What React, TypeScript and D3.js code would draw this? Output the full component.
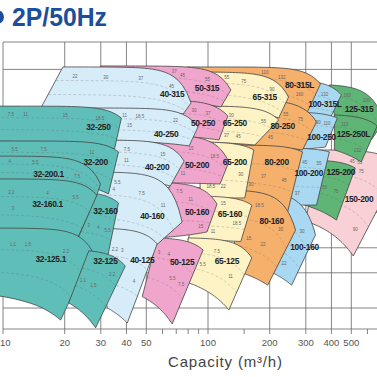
import React from "react";
import * as d3 from "d3";

type Pt = [number, number];

// Axis ticks (capacity m3/h, head m)
const qTicks = [10, 20, 30, 40, 50, 100, 200, 300, 400, 500];
const qMinorTicks = [60, 70, 80, 90, 150, 600];
const hGrid = [10, 15, 20, 30, 40, 50, 100, 150, 200];

// Pumps in drawing order (right-most series first)
const pumpNames = [
  "150-200",
  "125-315", "125-250L", "125-200",
  "100-315L", "100-250", "100-200", "100-160",
  "80-315L", "80-250", "80-200", "80-160",
  "65-315", "65-250", "65-200", "65-160", "65-125",
  "50-315", "50-250", "50-200", "50-160", "50-125",
  "40-315", "40-250", "40-200", "40-160", "40-125",
  "32-250", "32-200", "32-200.1", "32-160.1", "32-160", "32-125.1", "32-125",
];

// Corners of each pump's working range [Q m3/h, H m]
const topLeft: Pt[] = [
  [349.8, 61.7],
  [390.9, 127.4], [413.5, 92.3], [312.7, 55.0],
  [250, 134.3], [250, 95.5], [236.5, 63.1], [189.1, 38.0],
  [79.1, 153.9], [142.9, 108.8], [128, 65.3], [120.9, 38.9],
  [91.5, 145.9], [96.7, 102.1], [91.5, 67.6], [89.4, 36.3], [80.0, 22.4],
  [29.9, 155.5], [33.4, 108.8], [52.3, 73.3], [65.4, 42.2], [56.5, 22.4],
  [19.6, 153.9], [15.3, 100], [21.4, 69.2], [23.9, 47.9], [26.7, 25.1],
  [7.0, 102], [7.0, 68.4], [7.0, 57.5], [7.0, 44.2], [28.9, 37.2], [7.0, 25.1], [26.2, 19.3],
];
const topRight: Pt[] = [
  [855, 50.1],
  [723, 86.0], [668.8, 81.3], [522.9, 50.1],
  [447.2, 114.7], [427.6, 89.1], [390.9, 60.3], [334.4, 23.2],
  [353.7, 128.7], [338.1, 85.1], [289.2, 60.3], [267.4, 24.5],
  [247, 112.2], [221.2, 87.1], [167.2, 61.7], [163.6, 32.7], [163.6, 17.8],
  [129.3, 120.9], [125, 91.2], [126.4, 53.7], [110.6, 33.1], [94.6, 19.5],
  [82.7, 105.4], [89.4, 80.4], [76.5, 54.3], [74.8, 26.9], [56.5, 20.9],
  [37.8, 89.1], [36.6, 60.3], [29.9, 41.7], [28.9, 36.3], [36.6, 33.5], [27.4, 19.1], [39.5, 16.2],
];
const bottomRight: Pt[] = [
  [511.3, 18.2],
  [625, 69.2], [559.3, 53.7], [422.8, 27.5],
  [390.9, 87.1], [374, 63.8], [338.1, 32.7], [255.7, 13.0],
  [299.1, 91.2], [289.2, 61.7], [244.5, 30.2], [195.6, 13.0],
  [221.2, 89.1], [169.2, 65.3], [151.2, 35.5], [144.5, 21.5], [126.4, 9.79],
  [115.6, 101.1], [113.1, 69.2], [114.4, 41.7], [98.9, 24.0], [66.9, 8.44],
  [75.6, 93.3], [80.9, 64.6], [65.4, 40.7], [55.3, 20.4], [40.4, 8.53],
  [35.0, 62.4], [32.7, 37.2], [28.6, 36.3], [22.4, 20.9], [32.3, 17.8], [19.1, 8.8], [28.3, 8.1],
];
const bottomLeft: Pt[] = [
  [299.1, 27.2],
  [413.5, 92.3], [413.5, 61.7], [295.8, 32.7],
  [279.7, 89.1], [255.7, 61.7], [223.7, 32.7], [182.9, 15.8],
  [142.9, 108.8], [135.2, 65.3], [135.2, 34.7], [142.9, 15.1],
  [96.7, 103.2], [91.5, 67.6], [91.5, 35.5], [80.0, 21.9], [78.2, 13.5],
  [33.4, 108.8], [52.3, 73.3], [65.4, 42.2], [56.5, 22.4], [47.8, 11.4],
  [15.3, 100], [17.1, 69.2], [23.9, 46.2], [26.7, 21.9], [32.3, 10],
  [7.0, 68.4], [7.0, 46.2], [7.0, 43.7], [7.0, 24.0], [21.9, 19.5], [7.0, 11.9], [20.9, 10.6],
];
// Model label anchor [Q, H]
const labelAt: Pt[] = [
  [545, 34.7],
  [545, 97.7], [512, 73.3], [445, 47.3],
  [372, 103.2], [358, 70.8], [310, 46.8], [295.8, 20.0],
  [279.7, 126.0], [231.2, 80.4], [216.3, 53.1], [204.5, 26.9],
  [189.1, 111.1], [135.2, 83.2], [135.2, 53.1], [128, 29.2], [123.6, 17.0],
  [98.9, 122.1], [94.6, 83.2], [88.4, 51.3], [88.4, 29.9], [74.8, 16.8],
  [66.9, 114.7], [62.5, 73.3], [56.5, 50.1], [53.5, 28.5], [47.8, 17.2],
  [29.2, 79.4], [28.3, 53.1], [16.7, 46.2], [16.5, 32.7], [31.6, 30.2], [17.1, 17.4], [31.6, 17.0],
];
// Motor power (kW) marks inside each range
const motorKW: number[][] = [
  [45, 55, 75, 90],
  [160, 200], [110, 132], [55, 75],
  [110, 132, 160], [75, 90, 110], [37, 45, 55], [18.5, 22, 30],
  [90, 110, 132, 160], [45, 55, 75], [30, 37, 45], [15, 18.5, 22, 30],
  [55, 75, 90], [30, 37, 45, 55], [18.5, 22, 30], [11, 15, 18.5], [5.5, 7.5, 11],
  [37, 45, 55], [22, 30, 37], [11, 15, 18.5], [7.5, 11, 15], [3, 4, 5.5, 7.5],
  [22, 30, 37, 45], [11, 15, 18.5, 22], [7.5, 11, 15], [4, 5.5, 7.5, 11], [2.2, 3, 4],
  [7.5, 11, 15, 18.5], [5.5, 7.5, 11], [4, 5.5, 7.5], [2.2, 3, 4, 5.5], [3, 4, 5.5], [1.1, 1.5, 2.2], [1.1, 1.5, 2.2],
];

const seriesColor: Record<string, string> = {
  "32": "#60beb9",
  "40": "#d6ecf8",
  "50": "#f0a6cc",
  "65": "#fdf3c5",
  "80": "#f5b06c",
  "100": "#a9d9f2",
  "125": "#5eb576",
  "150": "#f8d0d6",
};

const EXP_TOP = 6;
const EXP_BOT = 2;
const N = 30;

function curvePts(p0: Pt, p1: Pt, e: number, n = N): Pt[] {
  const [q0, h0] = p0;
  const [q1, h1] = p1;
  const den = Math.pow(q1, e) - Math.pow(q0, e);
  const b = den === 0 ? 0 : (h0 - h1) / den;
  const a = h0 + b * Math.pow(q0, e);
  const pts: Pt[] = [];
  for (let i = 0; i <= n; i++) {
    const q = Math.exp(Math.log(q0) + ((Math.log(q1) - Math.log(q0)) * i) / n);
    const h = den === 0 ? h0 + ((h1 - h0) * i) / n : a - b * Math.pow(q, e);
    pts.push([q, h]);
  }
  return pts;
}

function lerpLog(p0: Pt, p1: Pt, t: number): Pt {
  return [
    Math.exp(Math.log(p0[0]) * (1 - t) + Math.log(p1[0]) * t),
    Math.exp(Math.log(p0[1]) * (1 - t) + Math.log(p1[1]) * t),
  ];
}

function innerCurve(i: number, t: number): Pt[] {
  return curvePts(
    lerpLog(topLeft[i], bottomLeft[i], t),
    lerpLog(topRight[i], bottomRight[i], t),
    EXP_TOP * (1 - t) + EXP_BOT * t
  );
}

function overlaps(a: number[], b: number[]) {
  return a[0] < b[2] && b[0] < a[2] && a[1] < b[3] && b[1] < a[3];
}

export default function App() {
  const x = d3.scaleLog().domain([10, 100]).range([3, 208]);
  const y = d3.scaleLog().domain([8, 10, 100, 200]).range([329, 308, 108, 42]);
  const toPx = (p: Pt): [number, number] => [x(p[0]), y(p[1])];
  const line = d3.line<[number, number]>();

  const gridTop = y(200);
  const axisY = y(8);

  const NAME_FS = 8.4;
  const KW_FS = 4.5;

  const polys = pumpNames.map((_, i) => {
    const top = curvePts(topLeft[i], topRight[i], EXP_TOP).map(toPx);
    const bottom = curvePts(bottomLeft[i], bottomRight[i], EXP_BOT).map(toPx).reverse();
    return [...top, ...bottom] as [number, number][];
  });

  const nameBoxes = pumpNames.map((n, i) => {
    const [cx, cy] = toPx(labelAt[i]);
    const w = n.length * NAME_FS * 0.52;
    return [cx - w / 2 - 1, cy - 5, cx + w / 2 + 1, cy + 5];
  });

  // place motor power marks where they stay visible and clear of other texts
  const placed: number[][] = [...nameBoxes];
  const kwLabels: { i: number; x: number; y: number; v: number }[] = [];
  const visibleIn = (i: number, px: number, py: number) => {
    if (!d3.polygonContains(polys[i], [px, py])) return false;
    for (let j = i + 1; j < polys.length; j++) {
      if (d3.polygonContains(polys[j], [px, py])) return false;
    }
    return true;
  };
  const ts = [0.25, 0.55, 0.8, 0.15, 0.4, 0.7];
  const offs = [0, 2, -2, 4, -4, 6, -6, 8, -8, 10, -10, 12, -12];
  pumpNames.forEach((_, i) => {
    const kw = motorKW[i];
    const curves = ts.map((t) => innerCurve(i, t).map(toPx));
    kw.forEach((v, k) => {
      const target = Math.round(((k + 0.5) / kw.length) * N);
      const txt = String(v);
      const w = txt.length * KW_FS * 0.55 + 1;
      let done = false;
      for (const off of offs) {
        if (done) break;
        for (const c of curves) {
          const idx = target + off;
          if (idx < 1 || idx > N - 1) continue;
          const [px, py] = c[idx];
          const box = [px - w / 2, py - 2.8, px + w / 2, py + 2.8];
          if (box[0] < 3 || box[2] > 374 || box[1] < 44 || box[3] > 326) continue;
          if (placed.some((b) => overlaps(b, box))) continue;
          const corners: [number, number][] = [
            [box[0], box[1]], [box[2], box[1]], [box[0], box[3]], [box[2], box[3]], [px, py],
          ];
          if (!corners.every(([cx, cy]) => visibleIn(i, cx, cy))) continue;
          placed.push(box);
          kwLabels.push({ i, x: px, y: py, v });
          done = true;
          break;
        }
      }
    });
  });

  return (
    <svg
      width={377}
      height={377}
      style={{ position: "absolute", left: 0, top: 0, background: "#fff" }}
      fontFamily="'Liberation Sans', Arial, sans-serif"
    >
      <rect x={0} y={0} width={377} height={377} fill="#fff" />
      {/* title */}
      <circle cx={-3} cy={17} r={7} fill="#1b4f9b" />
      <text x={12} y={26} fontSize={26} fontWeight="bold" fill="#1b4f9b" textLength={95} lengthAdjust="spacingAndGlyphs">
        2P/50Hz
      </text>

      {/* grid */}
      <g stroke="#666" strokeWidth={0.8}>
        {hGrid.map((h) => (
          <line key={"h" + h} x1={x(10)} x2={377} y1={y(h)} y2={y(h)} />
        ))}
        <line x1={x(10)} x2={377} y1={axisY} y2={axisY} />
        {qTicks.map((q) => (
          <line key={"q" + q} x1={x(q)} x2={x(q)} y1={gridTop} y2={axisY + 5} />
        ))}
        {qMinorTicks.map((q) => (
          <line key={"m" + q} x1={x(q)} x2={x(q)} y1={axisY} y2={axisY + 5} />
        ))}
      </g>

      {/* pump ranges */}
      {pumpNames.map((name, i) => {
        const series = name.split("-")[0];
        const d = line(polys[i]) + "Z";
        const dashed = [0.33, 0.67].map((t) => line(innerCurve(i, t).map(toPx)));
        return (
          <g key={name}>
            <path d={d} fill={seriesColor[series]} stroke="#444" strokeWidth={0.8} />
            {dashed.map((dd, k) => (
              <path key={k} d={dd || ""} fill="none" stroke="#555" strokeOpacity={0.45} strokeWidth={0.5} strokeDasharray="3,2" />
            ))}
            {kwLabels
              .filter((l) => l.i === i)
              .map((l, k) => (
                <text key={k} x={l.x} y={l.y} fontSize={KW_FS} fill="#666" textAnchor="middle" dominantBaseline="middle">
                  {l.v}
                </text>
              ))}
          </g>
        );
      })}

      {/* pump names */}
      {pumpNames.map((name, i) => {
        const [px, py] = toPx(labelAt[i]);
        return (
          <text key={"l" + name} x={px} y={py} fontSize={NAME_FS} fontWeight="bold" fill="#222" textAnchor="middle" dominantBaseline="middle" letterSpacing={-0.3}>
            {name}
          </text>
        );
      })}

      {/* x tick labels */}
      {qTicks.map((q, k) => (
        <text key={"t" + q} x={k === 0 ? 0 : x(q)} y={346} fontSize={9.5} fill="#555" textAnchor={k === 0 ? "start" : "middle"}>
          {q}
        </text>
      ))}
      <text x={225} y={367} fontSize={15} fill="#444" textAnchor="middle" textLength={114} lengthAdjust="spacing">
        Capacity (m³/h)
      </text>
    </svg>
  );
}
